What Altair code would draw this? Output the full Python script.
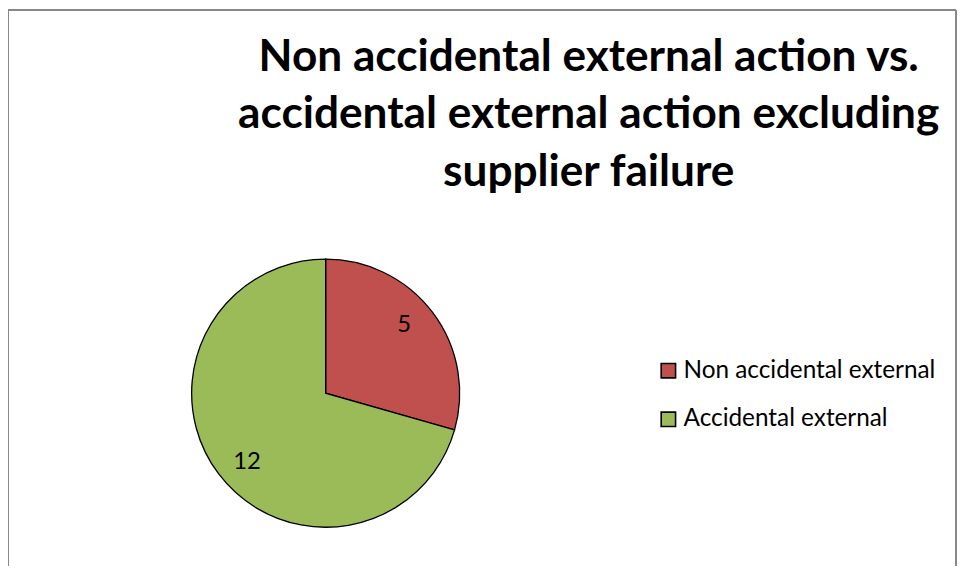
import altair as alt
import pandas as pd

categories = ["Non accidental external", "Accidental external"]
values = [5, 12]
colors = ["#C0504D", "#9BBB59"]
title_lines = ["Non accidental external action vs.",
               "accidental external action excluding",
               "supplier failure"]

df = pd.DataFrame({"category": categories, "value": values, "order": [0, 1]})
frame_df = pd.DataFrame({"k": [0]})
title_df = pd.DataFrame({"t": ["\n".join(title_lines)]})

W, H = 956, 560
CX, CY, R = 320, 386, 135

color_scale = alt.Scale(domain=categories, range=colors)

base = alt.Chart(df).encode(
    theta=alt.Theta("value:Q", stack=True),
    order=alt.Order("order:Q"),
)

pie = base.mark_arc(radius=R, stroke="black", strokeWidth=1.3).encode(
    x=alt.value(CX), y=alt.value(CY),
    color=alt.Color(
        "category:N", scale=color_scale, sort=categories,
        legend=alt.Legend(
            title=None, orient="none", legendX=653, legendY=351,
            symbolType="square", symbolSize=210, symbolStrokeColor="black",
            symbolStrokeWidth=1.6, labelFontSize=24.5, labelFont="Lato",
            labelColor="black", labelOffset=3, rowPadding=24,
            labelLimit=400,
        ),
    ),
)

labels = base.mark_text(radius=105, thetaOffset=-0.07, fontSize=24, font="Lato",
                        color="black").encode(
    x=alt.value(CX), y=alt.value(CY),
    text=alt.Text("value:Q"),
)

title = alt.Chart(title_df).mark_text(
    font="Lato", fontWeight="bold", fontSize=44.5, lineBreak="\n", lineHeight=58,
    align="center", baseline="alphabetic", color="black",
).encode(x=alt.value(585), y=alt.value(61), text="t:N")

fr = alt.Chart(frame_df)
top = fr.mark_rule(color="#888888", strokeWidth=2).encode(
    x=alt.value(0), x2=alt.value(W - 1), y=alt.value(0))
left = fr.mark_rule(color="#888888", strokeWidth=2).encode(
    x=alt.value(0), y=alt.value(0), y2=alt.value(H))
right = fr.mark_rule(color="#888888", strokeWidth=2).encode(
    x=alt.value(W - 1), y=alt.value(0), y2=alt.value(H))

chart = alt.layer(top, left, right, pie, labels, title).properties(
    width=W, height=H, padding=0, autosize=alt.AutoSizeParams(type="none"),
).configure_view(stroke=None)

chart.save("out.html", embed_options={"renderer": "svg", "actions": False})
